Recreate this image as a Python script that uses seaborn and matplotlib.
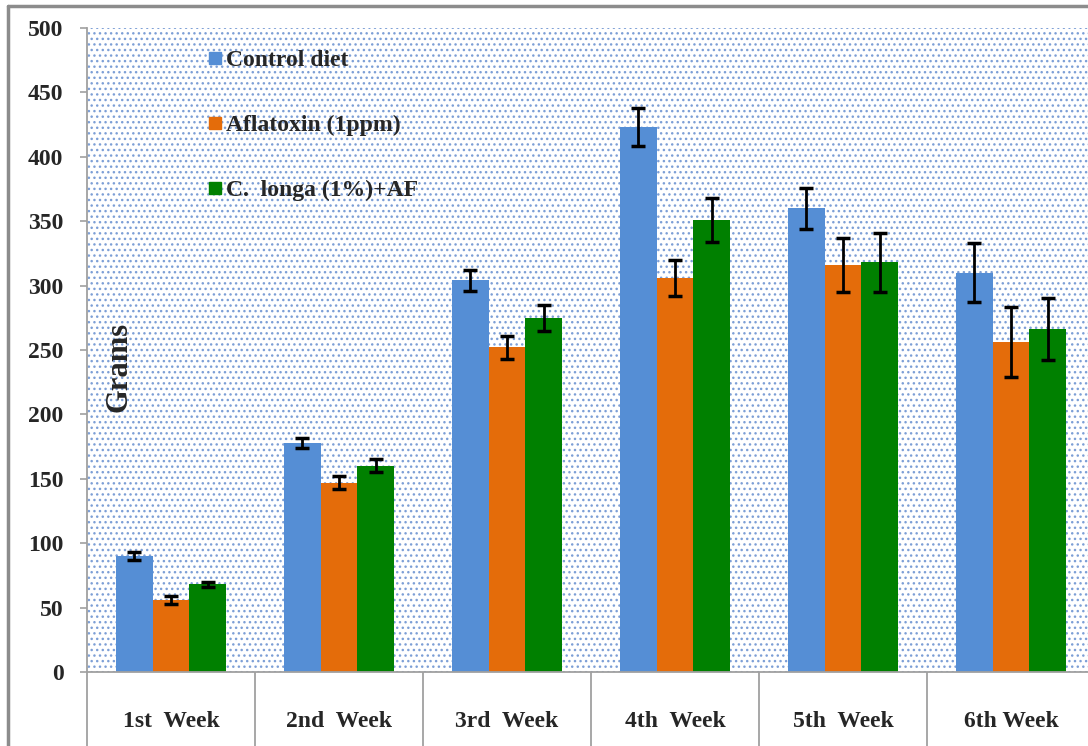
import matplotlib
matplotlib.use("Agg")
import matplotlib.pyplot as plt
from matplotlib.lines import Line2D
from matplotlib.patches import Rectangle
import numpy as np
import pandas as pd
import seaborn as sns


weeks = ["1st  Week", "2nd  Week", "3rd  Week", "4th  Week", "5th  Week", "6th Week"]
groups = ["Control diet", "Aflatoxin (1ppm)", "C.  longa (1%)+AF"]

control_mean = [90, 178, 304, 423, 360, 310]
control_err = [3, 4, 8, 15, 16, 23]
aflatoxin_mean = [56, 147, 252, 306, 316, 256]
aflatoxin_err = [3, 5, 9, 14, 21, 27]
longa_mean = [68, 160, 275, 351, 318, 266]
longa_err = [2, 5, 10, 17, 23, 24]

colors = ["#558ED5", "#E46C0A", "#008000"]


def build_frame():
    rows = []
    for g, means in zip(groups, [control_mean, aflatoxin_mean, longa_mean]):
        for w, m in zip(weeks, means):
            rows.append({"week": w, "group": g, "grams": m})
    return pd.DataFrame(rows)


def main():
    sns.set_theme(style="white")
    plt.rcParams["font.family"] = ["Liberation Serif", "DejaVu Serif"]
    plt.rcParams["font.weight"] = "bold"

    df = build_frame()
    fig = plt.figure(figsize=(10.88, 7.46), dpi=100)
    ax = fig.add_axes([87 / 1088, 74 / 746, 1008 / 1088, 644 / 746])

    # dotted background
    ax.add_patch(Rectangle((0, 0), 1, 1, transform=ax.transAxes, facecolor="white",
                           edgecolor="#7D9FD6", hatch="...", lw=0, zorder=0))

    sns.barplot(data=df, x="week", y="grams", hue="group", palette=colors,
                hue_order=groups, order=weeks, errorbar=None, width=0.66,
                gap=0, saturation=1, ax=ax, zorder=2, linewidth=0)

    for cont, errs in zip(ax.containers, [control_err, aflatoxin_err, longa_err]):
        xs = [p.get_x() + p.get_width() / 2 for p in cont.patches]
        ys = [p.get_height() for p in cont.patches]
        ax.errorbar(xs, ys, yerr=errs, fmt="none", ecolor="black", elinewidth=2,
                    capsize=5, capthick=2.5, zorder=3)

    ax.set_ylim(0, 500)
    ax.set_xlim(-0.5, 5.5)
    ax.set_yticks(np.arange(0, 501, 50))
    ax.tick_params(axis="y", direction="out", length=5, width=1.2, color="#A0A0A0",
                   labelsize=17, pad=12, left=True)
    for lbl in ax.get_yticklabels():
        lbl.set_fontweight("bold")

    # category boundaries as long ticks, labels on minor ticks
    ax.set_xticks(np.arange(-0.5, 6.0, 1.0))
    ax.set_xticklabels([])
    ax.set_xticks(np.arange(6), minor=True)
    ax.set_xticklabels(weeks, minor=True, fontsize=17, fontweight="bold")
    ax.tick_params(axis="x", which="major", direction="out", length=56, width=1.3,
                   color="#A0A0A0", bottom=True)
    ax.tick_params(axis="x", which="minor", length=0, pad=28)

    for side in ["top", "right"]:
        ax.spines[side].set_visible(False)
    for side in ["left", "bottom"]:
        ax.spines[side].set_color("#A0A0A0")
        ax.spines[side].set_linewidth(1.3)

    ax.set_xlabel("")
    ax.set_ylabel("")
    ax.text(-0.31, 237, "Grams", rotation=90, fontsize=22, fontweight="bold",
            ha="center", va="center", zorder=4)

    handles = [Line2D([], [], marker="s", linestyle="none", markersize=9,
                      markerfacecolor=c, markeredgecolor=c) for c in colors]
    leg = ax.legend(handles, groups, loc="upper left", bbox_to_anchor=(0.098, 1.0),
                    frameon=False, prop={"size": 17, "weight": "bold"},
                    labelspacing=1.85, handletextpad=0.1, handlelength=0.7)
    leg.set_zorder(5)

    # outer frame
    fig.add_artist(Line2D([8 / 1088, 8 / 1088], [0, 1 - 6 / 746], color="#8C8C8C", lw=2.5))
    fig.add_artist(Line2D([8 / 1088, 1.0], [1 - 6 / 746, 1 - 6 / 746], color="#8C8C8C", lw=2.5))

    fig.savefig("out.png", dpi=100)


if __name__ == "__main__":
    main()
